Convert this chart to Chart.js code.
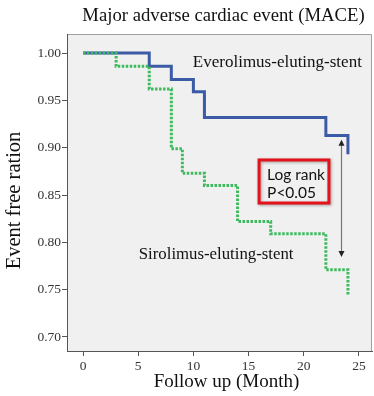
<!DOCTYPE html>
<html>
<head>
<meta charset="utf-8">
<script src="https://cdn.jsdelivr.net/npm/chart.js@4.4.1/dist/chart.umd.min.js"></script>
<style>
  html, body { margin: 0; padding: 0; background: #fff; }
</style>
</head>
<body>
<canvas id="myChart" width="374" height="396"></canvas>
<script>
// Kaplan-Meier steps
const everMonths = [0, 6, 8, 10, 11, 22, 24];
const everSurvival = [1.0, 0.986, 0.972, 0.959, 0.932, 0.913, 0.893];
const siroMonths = [0, 3, 6, 8, 9, 11, 14, 17, 22, 24];
const siroSurvival = [1.0, 0.986, 0.962, 0.899, 0.873, 0.86, 0.822, 0.809, 0.771, 0.745];

const xTicks = [0, 5, 10, 15, 20, 25];
const yTicks = [0.7, 0.75, 0.8, 0.85, 0.9, 0.95, 1.0];

const serif = "'Liberation Serif', 'Times New Roman', serif";

const toPoints = (xs, ys) => xs.map((x, i) => ({ x: x, y: ys[i] }));

// text / box / arrow, placed in data units
const notes = {
  ever: { x: 9.95, y: 0.9895 },
  siro: { x: 5.05, y: 0.7875 },
  box: { x1: 15.95, x2: 22.28, y1: 0.887, y2: 0.8415 },
  arrow: { x: 23.37, y1: 0.9085, y2: 0.7845 },
};

const decorations = {
  id: "decorations",
  beforeDraw(chart) {
    const { ctx, chartArea: a } = chart;
    ctx.save();
    ctx.fillStyle = "#f0f0f0";
    ctx.fillRect(a.left, a.top, a.right - a.left, a.bottom - a.top);
    ctx.strokeStyle = "#a0a0a0";
    ctx.lineWidth = 1;
    ctx.beginPath();
    ctx.moveTo(a.left, a.top + 0.5);
    ctx.lineTo(a.right - 0.5, a.top + 0.5);
    ctx.lineTo(a.right - 0.5, a.bottom);
    ctx.stroke();

    ctx.fillStyle = "#111";
    ctx.font = "18.7px " + serif;
    ctx.textAlign = "center";
    ctx.textBaseline = "middle";
    ctx.fillText("Major adverse cardiac event (MACE)", (a.left + a.right) / 2 + 4, 16);

    // axis titles, sitting a little right / low of the plot centre like the original
    ctx.font = "19px " + serif;
    ctx.fillText("Follow up (Month)", (a.left + a.right) / 2 + 7, 382);
    ctx.save();
    ctx.translate(15, (a.top + a.bottom) / 2 + 8);
    ctx.rotate(-Math.PI / 2);
    ctx.font = "20.5px " + serif;
    ctx.fillText("Event free ration", 0, 0);
    ctx.restore();
    ctx.restore();
  },
  afterDatasetsDraw(chart) {
    const { ctx } = chart;
    const xs = chart.scales.x;
    const ys = chart.scales.y;
    const px = (v) => xs.getPixelForValue(v);
    const py = (v) => ys.getPixelForValue(v);
    ctx.save();

    ctx.fillStyle = "#111";
    ctx.font = "17px " + serif;
    ctx.textAlign = "left";
    ctx.textBaseline = "middle";
    ctx.fillText("Everolimus-eluting-stent", px(notes.ever.x), py(notes.ever.y));
    ctx.font = "16.8px " + serif;
    ctx.fillText("Sirolimus-eluting-stent", px(notes.siro.x), py(notes.siro.y));

    // log rank box
    const b = notes.box;
    ctx.save();
    ctx.shadowColor = "rgba(0,0,0,0.35)";
    ctx.shadowBlur = 3;
    ctx.shadowOffsetX = 1;
    ctx.shadowOffsetY = 1;
    ctx.strokeStyle = "#e3121b";
    ctx.lineWidth = 3;
    ctx.strokeRect(px(b.x1), py(b.y1), px(b.x2) - px(b.x1), py(b.y2) - py(b.y1));
    ctx.restore();
    ctx.fillStyle = "#111";
    ctx.font = "15.5px Lato, 'Open Sans', sans-serif";
    ctx.fillText("Log rank", px(b.x1) + 8, py(b.y1) + 15);
    ctx.fillText("P<0.05", px(b.x1) + 8, py(b.y1) + 33);

    // double arrow
    const ax = Math.round(px(notes.arrow.x)) + 0.5;
    const top = py(notes.arrow.y1);
    const bot = py(notes.arrow.y2);
    ctx.strokeStyle = "#777";
    ctx.fillStyle = "#222";
    ctx.lineWidth = 1.2;
    ctx.beginPath();
    ctx.moveTo(ax, top + 4);
    ctx.lineTo(ax, bot - 4);
    ctx.stroke();
    ctx.beginPath();
    ctx.moveTo(ax, top);
    ctx.lineTo(ax - 3, top + 6);
    ctx.lineTo(ax + 3, top + 6);
    ctx.closePath();
    ctx.fill();
    ctx.beginPath();
    ctx.moveTo(ax, bot);
    ctx.lineTo(ax - 3, bot - 6);
    ctx.lineTo(ax + 3, bot - 6);
    ctx.closePath();
    ctx.fill();
    ctx.restore();
  },
};

new Chart("myChart", {
  type: "line",
  data: {
    datasets: [
      {
        label: "Sirolimus-eluting-stent",
        data: toPoints(siroMonths, siroSurvival),
        stepped: true,
        borderColor: "#3dbb5c",
        borderWidth: 3,
        borderDash: [2.5, 1.5],
        pointRadius: 0,
        fill: false,
        order: 0,
      },
      {
        label: "Everolimus-eluting-stent",
        data: toPoints(everMonths, everSurvival),
        stepped: true,
        borderColor: "#3b5ba6",
        borderWidth: 3,
        pointRadius: 0,
        fill: false,
        order: 1,
      },
    ],
  },
  options: {
    responsive: false,
    animation: false,
    devicePixelRatio: 1,
    layout: {
      padding: { top: 34, right: 2, left: 0, bottom: 0 },
    },
    scales: {
      x: {
        type: "linear",
        min: -1.45,
        max: 26.18,
        afterFit: (scale) => {
          scale.height = 45;
        },
        afterBuildTicks: (scale) => {
          scale.ticks = xTicks.map((v) => ({ value: v }));
        },
        grid: {
          drawOnChartArea: false,
          tickLength: 5,
          color: "#555",
        },
        border: { display: true, color: "#555", width: 1 },
        ticks: {
          padding: 2,
          color: "#333",
          font: { family: serif, size: 13.5 },
          maxRotation: 0,
        },
      },
      y: {
        type: "linear",
        min: 0.6852,
        max: 1.0201,
        afterFit: (scale) => {
          scale.width = 67;
        },
        afterBuildTicks: (scale) => {
          scale.ticks = yTicks.map((v) => ({ value: v }));
        },
        grid: {
          drawOnChartArea: false,
          tickLength: 5,
          color: "#555",
        },
        border: { display: true, color: "#555", width: 1 },
        ticks: {
          padding: 1,
          color: "#333",
          font: { family: serif, size: 13.5 },
          callback: (value) => Number(value).toFixed(2),
        },
      },
    },
    plugins: {
      legend: { display: false },
      tooltip: { enabled: false },
    },
  },
  plugins: [decorations],
});
</script>
</body>
</html>
